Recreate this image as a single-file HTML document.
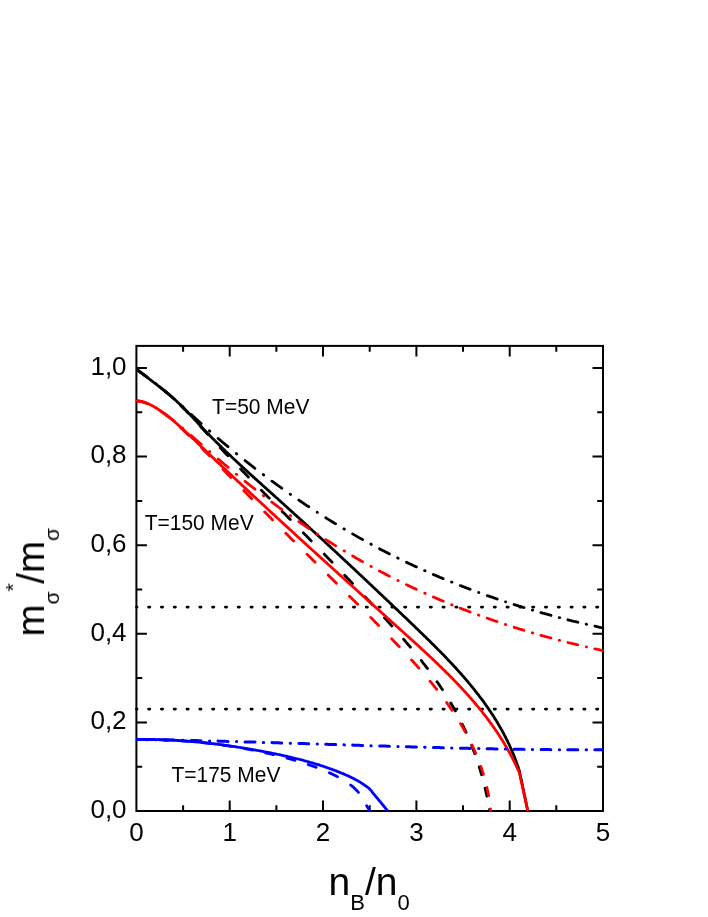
<!DOCTYPE html><html><head><meta charset="utf-8"><style>html,body{margin:0;padding:0;background:#fff}svg{display:block}</style></head><body><svg width="708" height="917" viewBox="0 0 708 917">
<rect width="100%" height="100%" fill="#fff"/>
<line x1="136.4" x2="601.0" y1="607.1" y2="607.1" stroke="#000" stroke-width="2.6" stroke-dasharray="1.4 11.4" stroke-dashoffset="-12.1" stroke-linecap="round"/>
<line x1="136.4" x2="601.0" y1="709.1" y2="709.1" stroke="#000" stroke-width="2.6" stroke-dasharray="1.4 11.4" stroke-dashoffset="-12.1" stroke-linecap="round"/>
<rect x="136.4" y="345.9" width="466.6" height="465.1" fill="none" stroke="#000" stroke-width="2"/>
<path d="M183.1 811.0 v-5.8 M183.1 345.9 v5.8 M229.7 811.0 v-10.5 M229.7 345.9 v10.5 M276.4 811.0 v-5.8 M276.4 345.9 v5.8 M323.0 811.0 v-10.5 M323.0 345.9 v10.5 M369.7 811.0 v-5.8 M369.7 345.9 v5.8 M416.4 811.0 v-10.5 M416.4 345.9 v10.5 M463.0 811.0 v-5.8 M463.0 345.9 v5.8 M509.7 811.0 v-10.5 M509.7 345.9 v10.5 M556.3 811.0 v-5.8 M556.3 345.9 v5.8 M136.4 766.7 h5.8 M603.0 766.7 h-5.8 M136.4 722.4 h10.5 M603.0 722.4 h-10.5 M136.4 678.1 h5.8 M603.0 678.1 h-5.8 M136.4 633.8 h10.5 M603.0 633.8 h-10.5 M136.4 589.5 h5.8 M603.0 589.5 h-5.8 M136.4 545.2 h10.5 M603.0 545.2 h-10.5 M136.4 500.9 h5.8 M603.0 500.9 h-5.8 M136.4 456.6 h10.5 M603.0 456.6 h-10.5 M136.4 412.3 h5.8 M603.0 412.3 h-5.8 M136.4 368.0 h10.5 M603.0 368.0 h-10.5" stroke="#000" stroke-width="2" fill="none"/>
<clipPath id="cp"><rect x="135.4" y="345.9" width="468.2" height="465.7"/></clipPath><g clip-path="url(#cp)">
<path d="M137.3 369.9 L138.1 370.5 L138.9 371.1 L139.7 371.7 L140.5 372.3 L141.3 372.9 L142.1 373.5 L142.9 374.1 L143.7 374.7 L144.5 375.3 L145.3 375.9 L146.1 376.5 L146.9 377.1 L147.3 377.4 M155.7 383.7 L156.1 384.0 M164.3 390.6 L165.1 391.2 L165.9 391.8 L166.6 392.5 L167.4 393.1 L168.2 393.7 L168.9 394.4 L169.7 395.0 L170.5 395.7 L171.2 396.3 L172.0 397.0 L172.7 397.6 L173.5 398.3 L174.3 398.9 M182.4 406.3 L183.0 406.8 M191.2 414.5 L191.9 415.1 L192.7 415.8 L193.4 416.5 L194.1 417.2 L194.9 417.8 L195.6 418.5 L196.4 419.2 L197.1 419.9 L197.8 420.5 L198.6 421.2 L199.3 421.9 L200.1 422.5 L200.8 423.2 L201.2 423.5 M209.4 430.8 L209.8 431.2 M218.1 438.4 L218.8 439.0 L219.6 439.7 L220.4 440.3 L221.1 441.0 L221.9 441.6 L222.6 442.2 L223.4 442.9 L224.2 443.5 L224.9 444.2 L225.7 444.8 L226.5 445.4 L227.2 446.1 L228.0 446.7 M236.3 453.5 L236.7 453.9 M245.1 460.6 L245.9 461.2 L246.6 461.8 L247.4 462.4 L248.2 463.0 L249.0 463.7 L249.8 464.3 L250.6 464.9 L251.4 465.5 L252.2 466.1 L252.9 466.7 L253.7 467.3 L254.5 468.0 L254.9 468.3 M263.3 474.6 L263.7 474.9 M271.9 481.1 L272.7 481.6 L273.5 482.2 L274.3 482.8 L275.1 483.4 L275.9 484.0 L276.7 484.6 L277.5 485.2 L278.4 485.8 L279.2 486.4 L280.0 486.9 L280.8 487.5 L281.6 488.1 L281.8 488.2 M290.2 494.2 L290.6 494.5 M298.8 500.1 L299.6 500.7 L300.5 501.3 L301.3 501.8 L302.1 502.4 L303.0 502.9 L303.8 503.5 L304.6 504.0 L305.4 504.6 L306.3 505.2 L307.1 505.7 L307.9 506.3 L308.8 506.8 M317.2 512.3 L317.4 512.4 M325.8 517.8 L326.6 518.3 L327.5 518.9 L328.3 519.4 L329.2 519.9 L330.0 520.4 L330.9 521.0 L331.7 521.5 L332.6 522.0 L333.4 522.5 L334.3 523.1 L335.1 523.6 L335.6 523.8 M343.9 528.9 L344.4 529.1 M352.6 533.9 L353.4 534.4 L354.3 534.9 L355.2 535.4 L356.0 535.9 L356.9 536.4 L357.8 536.9 L358.6 537.4 L359.5 537.9 L360.4 538.4 L361.2 538.8 L362.1 539.3 L362.6 539.6 M370.9 544.1 L371.3 544.4 M379.5 548.7 L380.3 549.2 L381.2 549.7 L382.1 550.1 L383.0 550.6 L383.9 551.0 L384.8 551.5 L385.7 552.0 L386.6 552.4 L387.4 552.9 L388.3 553.3 L389.2 553.8 L389.4 553.9 M397.7 558.0 L398.2 558.2 M406.5 562.3 L407.4 562.7 L408.3 563.1 L409.2 563.6 L410.1 564.0 L411.0 564.4 L411.9 564.8 L412.8 565.3 L413.7 565.7 L414.6 566.1 L415.5 566.5 L416.4 566.9 M424.6 570.6 L425.1 570.8 M433.3 574.5 L434.2 574.9 L435.1 575.2 L436.1 575.6 L437.0 576.0 L437.9 576.4 L438.8 576.8 L439.7 577.2 L440.7 577.6 L441.6 578.0 L442.5 578.4 L443.2 578.6 M451.5 582.1 L452.0 582.2 M460.3 585.6 L461.3 585.9 L462.2 586.3 L463.1 586.7 L464.1 587.0 L465.0 587.4 L465.9 587.7 L466.9 588.1 L467.8 588.4 L468.7 588.8 L469.7 589.1 L470.1 589.3 M478.6 592.4 L478.8 592.5 M487.3 595.6 L488.2 595.9 L489.2 596.2 L490.1 596.6 L491.1 596.9 L492.0 597.2 L493.0 597.5 L493.9 597.9 L494.8 598.2 L495.8 598.5 L496.7 598.8 L497.2 599.0 M505.5 601.8 L505.7 601.8 M514.1 604.5 L515.0 604.8 L516.0 605.1 L516.9 605.4 L517.9 605.7 L518.8 606.0 L519.8 606.3 L520.8 606.6 L521.7 606.9 L522.7 607.2 L523.6 607.5 L524.1 607.6 M532.3 610.1 L532.7 610.2 M540.9 612.6 L541.9 612.8 L542.8 613.1 L543.8 613.4 L544.7 613.7 L545.7 613.9 L546.7 614.2 L547.6 614.5 L548.6 614.7 L549.6 615.0 L550.5 615.2 L551.0 615.4 M559.2 617.6 L559.7 617.7 M567.9 619.8 L568.9 620.1 L569.9 620.3 L570.9 620.5 L571.8 620.8 L572.8 621.0 L573.8 621.3 L574.7 621.5 L575.7 621.7 L576.7 622.0 L577.7 622.2 L577.9 622.3 M586.2 624.2 L586.6 624.3 M594.9 626.2 L595.9 626.4 L596.9 626.6 L597.9 626.8 L598.8 627.1 L599.8 627.3 L600.8 627.5 L601.8 627.7 L602.7 627.9 L603.2 628.0" fill="none" stroke="#000" stroke-width="2.80" stroke-linejoin="round" stroke-linecap="round"/>
<path d="M137.9 370.3 L138.7 370.9 L139.5 371.5 L140.4 372.1 L141.2 372.7 L142.0 373.3 L142.8 373.9 L143.6 374.4 L144.4 375.0 L145.2 375.6 L146.0 376.2 M159.3 386.5 L160.1 387.1 L160.8 387.7 L161.6 388.4 L162.4 389.0 L163.2 389.6 L163.9 390.3 L164.7 390.9 L165.5 391.6 L166.2 392.2 L167.0 392.9 L167.4 393.2 M180.4 405.2 L181.1 405.9 L181.8 406.6 L182.5 407.3 L183.2 408.0 L183.9 408.7 L184.6 409.4 L185.3 410.1 L186.0 410.8 L186.7 411.6 L187.4 412.3 L188.1 413.0 L188.3 413.2 M200.4 426.4 L201.1 427.2 L201.8 427.9 L202.5 428.6 L203.2 429.4 L203.8 430.1 L204.5 430.9 L205.2 431.6 L205.9 432.3 L206.5 433.1 L207.2 433.8 L207.9 434.5 M220.2 447.7 L220.9 448.4 L221.6 449.1 L222.3 449.9 L223.0 450.6 L223.6 451.3 L224.3 452.0 L225.0 452.8 L225.7 453.5 L226.4 454.2 L227.1 454.9 L227.8 455.7 L227.9 455.8 M240.6 469.0 L241.3 469.7 L242.0 470.5 L242.7 471.2 L243.4 471.9 L244.1 472.6 L244.8 473.3 L245.5 474.0 L246.2 474.8 L246.9 475.5 L247.6 476.2 L248.3 476.9 L248.4 477.1 M261.4 490.3 L262.1 491.0 L262.8 491.7 L263.5 492.4 L264.2 493.2 L264.9 493.9 L265.6 494.6 L266.3 495.3 L267.0 496.0 L267.7 496.7 L268.4 497.4 L269.1 498.1 L269.3 498.3 M282.2 511.5 L282.9 512.2 L283.7 512.9 L284.4 513.6 L285.1 514.3 L285.8 515.0 L286.5 515.7 L287.2 516.4 L287.9 517.2 L288.6 517.9 L289.3 518.6 L290.0 519.3 L290.3 519.6 M303.3 532.8 L304.0 533.5 L304.7 534.2 L305.4 534.9 L306.1 535.6 L306.8 536.3 L307.5 537.0 L308.2 537.8 L308.9 538.5 L309.6 539.2 L310.3 539.9 L311.0 540.6 L311.3 541.0 M324.3 554.1 L324.9 554.9 L325.6 555.6 L326.3 556.3 L327.0 557.0 L327.7 557.7 L328.4 558.4 L329.1 559.1 L329.8 559.9 L330.5 560.6 L331.2 561.3 L331.9 562.0 L332.1 562.2 M344.7 575.3 L345.4 576.0 L346.1 576.7 L346.8 577.4 L347.5 578.2 L348.2 578.9 L348.9 579.6 L349.6 580.3 L350.3 581.1 L350.9 581.8 L351.6 582.5 L352.3 583.2 L352.5 583.4 M365.0 596.7 L365.7 597.4 L366.4 598.1 L367.1 598.9 L367.7 599.6 L368.4 600.3 L369.1 601.0 L369.8 601.8 L370.5 602.5 L371.2 603.2 L371.8 604.0 L372.5 604.7 M384.5 617.8 L385.2 618.6 L385.9 619.3 L386.6 620.0 L387.2 620.8 L387.9 621.5 L388.6 622.3 L389.3 623.0 L389.9 623.8 L390.6 624.5 L391.3 625.3 L391.9 626.0 M403.6 639.2 L404.2 640.0 L404.9 640.7 L405.5 641.5 L406.2 642.3 L406.8 643.0 L407.5 643.8 L408.1 644.5 L408.8 645.3 L409.4 646.1 L410.1 646.8 L410.4 647.2 M421.2 660.4 L421.8 661.2 L422.4 662.0 L423.0 662.8 L423.6 663.6 L424.3 664.4 L424.9 665.2 L425.5 666.0 L426.1 666.8 L426.7 667.5 L427.3 668.3 L427.5 668.5 M437.0 681.7 L437.6 682.5 L438.2 683.3 L438.7 684.1 L439.3 684.9 L439.8 685.8 L440.4 686.6 L441.0 687.4 L441.5 688.2 L442.1 689.1 L442.5 689.7 M450.8 703.0 L451.3 703.8 L451.8 704.7 L452.3 705.5 L452.8 706.4 L453.3 707.3 L453.8 708.1 L454.3 709.0 L454.8 709.9 L455.3 710.7 L455.4 710.9 M462.3 724.2 L462.7 725.1 L463.2 726.0 L463.6 726.9 L464.0 727.8 L464.4 728.7 L464.9 729.6 L465.3 730.5 L465.7 731.4 L466.1 732.3 M471.6 745.4 L472.0 746.4 L472.4 747.3 L472.7 748.2 L473.1 749.2 L473.4 750.1 L473.8 751.0 L474.1 752.0 L474.5 752.9 L474.7 753.6 M479.2 766.9 L479.5 767.9 L479.8 768.8 L480.1 769.8 L480.4 770.7 L480.7 771.7 L480.9 772.7 L481.2 773.6 L481.5 774.6 L481.6 774.8 M485.1 788.1 L485.3 789.1 L485.5 790.1 L485.8 791.1 L486.0 792.0 L486.2 793.0 L486.4 794.0 L486.7 795.0 L486.9 795.9 L486.9 796.2 M489.5 809.4 L489.7 810.4 L489.8 811.0" fill="none" stroke="#000" stroke-width="2.80" stroke-linejoin="round" stroke-linecap="round"/>
<path d="M136.5 369.3 L137.3 369.9 L138.1 370.5 L138.9 371.1 L139.7 371.7 L140.5 372.3 L141.3 372.9 L142.1 373.5 L142.9 374.1 L143.7 374.7 L144.5 375.3 L145.3 375.9 L146.1 376.5 L146.9 377.1 L147.7 377.7 L148.5 378.3 L149.3 379.0 L150.1 379.6 L150.8 380.2 L151.6 380.8 L152.4 381.4 L153.2 382.0 L154.0 382.6 L154.8 383.2 L155.6 383.8 L156.4 384.4 L157.2 385.0 L158.0 385.7 L158.8 386.3 L159.6 386.9 L160.4 387.5 L161.1 388.1 L161.9 388.8 L162.7 389.4 L163.5 390.0 L164.3 390.6 L165.0 391.3 L165.8 391.9 L166.6 392.5 L167.4 393.2 L168.1 393.8 L168.9 394.5 L169.7 395.1 L170.4 395.7 L171.2 396.4 L171.9 397.1 L172.7 397.7 L173.4 398.4 L174.2 399.0 L174.9 399.7 L175.7 400.4 L176.4 401.0 L177.2 401.7 L177.9 402.4 L178.6 403.1 L179.3 403.7 L180.1 404.4 L180.8 405.1 L181.5 405.8 L182.2 406.5 L182.9 407.2 L183.6 407.9 L184.3 408.6 L185.0 409.3 L185.7 410.1 L186.4 410.8 L187.1 411.5 L187.8 412.2 L188.5 412.9 L189.2 413.7 L189.9 414.4 L190.6 415.1 L191.2 415.9 L191.9 416.6 L192.6 417.3 L193.3 418.1 L194.0 418.8 L194.6 419.5 L195.3 420.3 L196.0 421.0 L196.7 421.7 L197.4 422.5 L198.0 423.2 L198.7 423.9 L199.4 424.7 L200.1 425.4 L200.8 426.1 L201.5 426.8 L202.1 427.6 L202.8 428.3 L203.5 429.0 L204.2 429.8 L204.9 430.5 L205.6 431.2 L206.3 431.9 L207.0 432.6 L207.7 433.4 L208.4 434.1 L209.1 434.8 L209.8 435.5 L210.5 436.2 L211.2 436.9 L211.9 437.6 L212.6 438.4 L213.3 439.1 L214.0 439.8 L214.7 440.5 L215.4 441.2 L216.1 441.9 L216.8 442.6 L217.6 443.3 L218.3 444.0 L219.0 444.7 L219.7 445.4 L220.4 446.1 L221.1 446.8 L221.8 447.5 L222.6 448.2 L223.3 448.9 L224.0 449.6 L224.7 450.3 L225.4 451.0 L226.2 451.7 L226.9 452.4 L227.6 453.1 L228.3 453.8 L229.1 454.4 L229.8 455.1 L230.5 455.8 L231.2 456.5 L232.0 457.2 L232.7 457.9 L233.4 458.6 L234.2 459.3 L234.9 459.9 L235.6 460.6 L236.4 461.3 L237.1 462.0 L237.8 462.7 L238.6 463.4 L239.3 464.0 L240.0 464.7 L240.8 465.4 L241.5 466.1 L242.2 466.8 L243.0 467.4 L243.7 468.1 L244.4 468.8 L245.2 469.5 L245.9 470.2 L246.7 470.8 L247.4 471.5 L248.1 472.2 L248.9 472.9 L249.6 473.5 L250.4 474.2 L251.1 474.9 L251.8 475.6 L252.6 476.2 L253.3 476.9 L254.1 477.6 L254.8 478.2 L255.5 478.9 L256.3 479.6 L257.0 480.3 L257.8 480.9 L258.5 481.6 L259.3 482.3 L260.0 482.9 L260.8 483.6 L261.5 484.3 L262.2 485.0 L263.0 485.6 L263.7 486.3 L264.5 487.0 L265.2 487.6 L266.0 488.3 L266.7 489.0 L267.4 489.6 L268.2 490.3 L268.9 491.0 L269.7 491.6 L270.4 492.3 L271.2 493.0 L271.9 493.6 L272.7 494.3 L273.4 495.0 L274.1 495.7 L274.9 496.3 L275.6 497.0 L276.4 497.7 L277.1 498.3 L277.9 499.0 L278.6 499.7 L279.3 500.3 L280.1 501.0 L280.8 501.7 L281.6 502.3 L282.3 503.0 L283.1 503.7 L283.8 504.3 L284.5 505.0 L285.3 505.7 L286.0 506.3 L286.8 507.0 L287.5 507.7 L288.2 508.4 L289.0 509.0 L289.7 509.7 L290.5 510.4 L291.2 511.0 L291.9 511.7 L292.7 512.4 L293.4 513.0 L294.1 513.7 L294.9 514.4 L295.6 515.1 L296.4 515.7 L297.1 516.4 L297.8 517.1 L298.6 517.7 L299.3 518.4 L300.0 519.1 L300.8 519.8 L301.5 520.4 L302.3 521.1 L303.0 521.8 L303.7 522.4 L304.5 523.1 L305.2 523.8 L305.9 524.5 L306.7 525.1 L307.4 525.8 L308.1 526.5 L308.9 527.2 L309.6 527.8 L310.3 528.5 L311.1 529.2 L311.8 529.8 L312.5 530.5 L313.3 531.2 L314.0 531.9 L314.7 532.5 L315.5 533.2 L316.2 533.9 L316.9 534.6 L317.7 535.2 L318.4 535.9 L319.1 536.6 L319.9 537.3 L320.6 537.9 L321.3 538.6 L322.1 539.3 L322.8 540.0 L323.5 540.6 L324.2 541.3 L325.0 542.0 L325.7 542.7 L326.4 543.3 L327.2 544.0 L327.9 544.7 L328.6 545.4 L329.4 546.0 L330.1 546.7 L330.8 547.4 L331.6 548.1 L332.3 548.7 L333.0 549.4 L333.7 550.1 L334.5 550.8 L335.2 551.5 L335.9 552.1 L336.7 552.8 L337.4 553.5 L338.1 554.2 L338.8 554.8 L339.6 555.5 L340.3 556.2 L341.0 556.9 L341.8 557.6 L342.5 558.2 L343.2 558.9 L343.9 559.6 L344.7 560.3 L345.4 561.0 L346.1 561.6 L346.9 562.3 L347.6 563.0 L348.3 563.7 L349.0 564.4 L349.8 565.0 L350.5 565.7 L351.2 566.4 L351.9 567.1 L352.7 567.8 L353.4 568.4 L354.1 569.1 L354.9 569.8 L355.6 570.5 L356.3 571.2 L357.0 571.9 L357.8 572.5 L358.5 573.2 L359.2 573.9 L359.9 574.6 L360.7 575.3 L361.4 575.9 L362.1 576.6 L362.8 577.3 L363.6 578.0 L364.3 578.7 L365.0 579.4 L365.8 580.0 L366.5 580.7 L367.2 581.4 L367.9 582.1 L368.7 582.8 L369.4 583.5 L370.1 584.2 L370.8 584.8 L371.6 585.5 L372.3 586.2 L373.0 586.9 L373.7 587.6 L374.5 588.3 L375.2 589.0 L375.9 589.6 L376.6 590.3 L377.4 591.0 L378.1 591.7 L378.8 592.4 L379.5 593.1 L380.3 593.8 L381.0 594.5 L381.7 595.1 L382.4 595.8 L383.2 596.5 L383.9 597.2 L384.6 597.9 L385.4 598.6 L386.1 599.3 L386.8 600.0 L387.5 600.6 L388.3 601.3 L389.0 602.0 L389.7 602.7 L390.4 603.4 L391.2 604.1 L391.9 604.8 L392.6 605.5 L393.3 606.2 L394.1 606.9 L394.8 607.6 L395.5 608.2 L396.2 608.9 L397.0 609.6 L397.7 610.3 L398.4 611.0 L399.1 611.7 L399.9 612.4 L400.6 613.1 L401.3 613.8 L402.1 614.5 L402.8 615.2 L403.5 615.9 L404.2 616.6 L405.0 617.3 L405.7 617.9 L406.4 618.6 L407.1 619.3 L407.9 620.0 L408.6 620.7 L409.3 621.4 L410.0 622.1 L410.8 622.8 L411.5 623.5 L412.2 624.2 L413.0 624.9 L413.7 625.6 L414.4 626.3 L415.1 627.0 L415.9 627.7 L416.6 628.4 L417.3 629.1 L418.0 629.8 L418.8 630.5 L419.5 631.2 L420.2 631.9 L420.9 632.6 L421.7 633.3 L422.4 634.0 L423.1 634.7 L423.8 635.4 L424.5 636.1 L425.3 636.8 L426.0 637.5 L426.7 638.2 L427.4 638.9 L428.1 639.6 L428.9 640.3 L429.6 641.0 L430.3 641.7 L431.0 642.5 L431.7 643.2 L432.4 643.9 L433.2 644.6 L433.9 645.3 L434.6 646.0 L435.3 646.7 L436.0 647.4 L436.7 648.1 L437.4 648.9 L438.1 649.6 L438.8 650.3 L439.6 651.0 L440.3 651.7 L441.0 652.4 L441.7 653.2 L442.4 653.9 L443.1 654.6 L443.8 655.3 L444.5 656.0 L445.2 656.8 L445.9 657.5 L446.6 658.2 L447.2 658.9 L447.9 659.7 L448.6 660.4 L449.3 661.1 L450.0 661.9 L450.7 662.6 L451.4 663.3 L452.1 664.1 L452.8 664.8 L453.4 665.5 L454.1 666.3 L454.8 667.0 L455.5 667.7 L456.1 668.5 L456.8 669.2 L457.5 670.0 L458.2 670.7 L458.8 671.5 L459.5 672.2 L460.2 672.9 L460.8 673.7 L461.5 674.4 L462.1 675.2 L462.8 675.9 L463.5 676.7 L464.1 677.5 L464.8 678.2 L465.4 679.0 L466.1 679.7 L466.7 680.5 L467.4 681.2 L468.0 682.0 L468.7 682.8 L469.3 683.5 L469.9 684.3 L470.6 685.1 L471.2 685.8 L471.8 686.6 L472.5 687.4 L473.1 688.2 L473.7 688.9 L474.3 689.7 L474.9 690.5 L475.6 691.3 L476.2 692.0 L476.8 692.8 L477.4 693.6 L478.0 694.4 L478.6 695.2 L479.2 696.0 L479.8 696.8 L480.4 697.6 L481.0 698.3 L481.6 699.1 L482.2 699.9 L482.8 700.7 L483.4 701.5 L484.0 702.3 L484.5 703.1 L485.1 703.9 L485.7 704.8 L486.3 705.6 L486.8 706.4 L487.4 707.2 L488.0 708.0 L488.5 708.8 L489.1 709.6 L489.6 710.5 L490.2 711.3 L490.7 712.1 L491.3 712.9 L491.8 713.7 L492.4 714.6 L492.9 715.4 L493.5 716.2 L494.0 717.1 L494.5 717.9 L495.0 718.8 L495.6 719.6 L496.1 720.4 L496.6 721.3 L497.1 722.1 L497.6 723.0 L498.1 723.8 L498.6 724.7 L499.1 725.5 L499.6 726.4 L500.1 727.2 L500.6 728.1 L501.1 729.0 L501.6 729.8 L502.1 730.7 L502.5 731.6 L503.0 732.4 L503.5 733.3 L504.0 734.2 L504.4 735.1 L504.9 736.0 L505.3 736.8 L505.8 737.7 L506.2 738.6 L506.7 739.5 L507.1 740.4 L507.6 741.3 L508.0 742.2 L508.4 743.1 L508.9 744.0 L509.3 744.9 L509.7 745.8 L510.1 746.7 L510.5 747.6 L510.9 748.5 L511.3 749.4 L511.7 750.4 L512.1 751.3 L512.5 752.2 L512.9 753.1 L513.3 754.0 L513.7 755.0 L514.0 755.9 L514.4 756.8 L514.8 757.8 L515.1 758.7 L515.5 759.7 L515.8 760.6 L516.2 761.6 L516.5 762.5 L516.9 763.5 L517.2 764.4 L517.6 765.4 L517.9 766.3 L518.2 767.3 L518.5 768.3 L518.8 769.2 L519.2 770.2 L519.4 771.0 L519.6 772.0 L519.8 773.0 L520.0 773.9 L520.2 774.9 L520.4 775.9 L520.6 776.9 L520.8 777.9 L521.0 778.9 L521.3 779.8 L521.5 780.8 L521.7 781.8 L521.9 782.8 L522.1 783.8 L522.3 784.7 L522.5 785.7 L522.7 786.7 L522.9 787.7 L523.1 788.7 L523.3 789.7 L523.5 790.6 L523.7 791.6 L523.9 792.6 L524.1 793.6 L524.3 794.6 L524.6 795.5 L524.8 796.5 L525.0 797.5 L525.2 798.5 L525.4 799.5 L525.6 800.4 L525.8 801.4 L526.0 802.4 L526.2 803.4 L526.4 804.4 L526.6 805.4 L526.8 806.3 L527.0 807.3 L527.2 808.3 L527.4 809.3 L527.6 810.3 L527.8 811.0" fill="none" stroke="#000" stroke-width="2.80" stroke-linejoin="round" stroke-linecap="butt"/>
<path d="M137.3 401.0 L138.3 401.1 L139.3 401.3 L140.3 401.4 L141.2 401.7 L142.2 401.9 L143.2 402.2 L144.1 402.4 L145.1 402.7 L146.0 403.1 L146.9 403.4 L147.4 403.6 M155.6 407.6 L156.0 407.9 M164.4 413.4 L165.2 414.0 L166.0 414.6 L166.8 415.2 L167.6 415.8 L168.4 416.4 L169.2 417.0 L170.0 417.7 L170.7 418.3 L171.5 418.9 L172.3 419.5 L173.1 420.1 L173.9 420.8 L174.3 421.1 M182.5 428.0 L182.9 428.3 M191.2 435.5 L192.0 436.2 L192.7 436.9 L193.5 437.5 L194.2 438.2 L195.0 438.8 L195.7 439.5 L196.5 440.2 L197.2 440.8 L198.0 441.5 L198.7 442.1 L199.5 442.8 L200.2 443.5 L201.0 444.1 L201.2 444.3 M209.5 451.5 L209.8 451.8 M218.2 459.0 L218.9 459.6 L219.7 460.3 L220.4 460.9 L221.2 461.6 L222.0 462.2 L222.7 462.9 L223.5 463.5 L224.3 464.2 L225.0 464.8 L225.8 465.4 L226.5 466.1 L227.3 466.7 L228.1 467.4 M236.3 474.2 L236.7 474.5 M245.0 481.3 L245.8 481.9 L246.6 482.5 L247.4 483.2 L248.1 483.8 L248.9 484.4 L249.7 485.0 L250.5 485.7 L251.3 486.3 L252.0 486.9 L252.8 487.5 L253.6 488.1 L254.4 488.7 L255.0 489.2 M263.3 495.6 L263.7 495.9 M271.8 502.1 L272.6 502.7 L273.4 503.3 L274.2 503.9 L275.0 504.5 L275.8 505.1 L276.6 505.7 L277.4 506.3 L278.2 506.9 L279.0 507.5 L279.8 508.1 L280.6 508.7 L281.5 509.2 L281.9 509.5 M290.2 515.5 L290.6 515.8 M298.8 521.6 L299.6 522.1 L300.4 522.7 L301.2 523.3 L302.0 523.8 L302.9 524.4 L303.7 525.0 L304.5 525.5 L305.3 526.1 L306.2 526.6 L307.0 527.2 L307.8 527.8 L308.6 528.3 L308.9 528.5 M317.0 533.9 L317.4 534.1 M325.8 539.6 L326.6 540.1 L327.5 540.6 L328.3 541.2 L329.2 541.7 L330.0 542.2 L330.8 542.8 L331.7 543.3 L332.5 543.8 L333.4 544.4 L334.2 544.9 L335.1 545.4 L335.7 545.8 M344.0 550.9 L344.5 551.1 M352.6 556.0 L353.5 556.5 L354.4 557.0 L355.2 557.5 L356.1 558.0 L356.9 558.5 L357.8 559.0 L358.7 559.5 L359.5 560.0 L360.4 560.5 L361.3 561.0 L362.2 561.5 L362.6 561.7 M370.9 566.3 L371.3 566.6 M379.4 571.0 L380.3 571.4 L381.2 571.9 L382.1 572.4 L383.0 572.8 L383.9 573.3 L384.7 573.8 L385.6 574.2 L386.5 574.7 L387.4 575.1 L388.3 575.6 L389.2 576.1 L389.4 576.2 M397.9 580.5 L398.1 580.6 M406.4 584.6 L407.3 585.1 L408.2 585.5 L409.1 585.9 L410.0 586.4 L410.9 586.8 L411.8 587.2 L412.7 587.6 L413.6 588.1 L414.5 588.5 L415.4 588.9 L416.3 589.3 M424.7 593.2 L425.2 593.4 M433.4 597.0 L434.3 597.4 L435.3 597.8 L436.2 598.2 L437.1 598.6 L438.0 599.0 L438.9 599.4 L439.9 599.8 L440.8 600.2 L441.7 600.6 L442.6 601.0 L443.3 601.2 M451.6 604.7 L452.1 604.9 M460.2 608.1 L461.1 608.5 L462.1 608.8 L463.0 609.2 L463.9 609.6 L464.9 609.9 L465.8 610.3 L466.7 610.7 L467.7 611.0 L468.6 611.4 L469.5 611.7 L470.2 612.0 M478.4 615.0 L478.9 615.2 M487.1 618.2 L488.1 618.5 L489.0 618.8 L490.0 619.2 L490.9 619.5 L491.9 619.8 L492.8 620.2 L493.7 620.5 L494.7 620.8 L495.6 621.1 L496.6 621.5 L497.1 621.6 M505.4 624.4 L505.8 624.6 M514.2 627.3 L515.1 627.6 L516.1 627.9 L517.0 628.2 L518.0 628.5 L518.9 628.8 L519.9 629.1 L520.8 629.3 L521.8 629.6 L522.7 629.9 L523.7 630.2 L523.9 630.3 M532.3 632.8 L532.8 633.0 M541.0 635.3 L541.9 635.6 L542.9 635.8 L543.9 636.1 L544.8 636.4 L545.8 636.7 L546.8 636.9 L547.7 637.2 L548.7 637.5 L549.7 637.7 L550.6 638.0 L550.9 638.0 M559.3 640.3 L559.6 640.4 M568.0 642.5 L569.0 642.8 L570.0 643.0 L570.9 643.2 L571.9 643.5 L572.9 643.7 L573.9 644.0 L574.8 644.2 L575.8 644.4 L576.8 644.7 L577.7 644.9 M586.3 646.9 L586.5 646.9 M594.8 648.8 L595.8 649.0 L596.7 649.2 L597.7 649.4 L598.7 649.6 L599.7 649.9 L600.6 650.1 L601.6 650.3 L602.6 650.5 L603.2 650.6" fill="none" stroke="#ff0000" stroke-width="2.80" stroke-linejoin="round" stroke-linecap="round"/>
<path d="M138.0 401.0 L139.0 401.1 L140.0 401.2 L141.0 401.4 L142.0 401.6 L143.0 401.9 L143.9 402.1 L144.9 402.4 L145.8 402.8 L146.0 402.9 M159.2 410.0 L160.0 410.5 L160.8 411.1 L161.7 411.7 L162.5 412.3 L163.3 412.9 L164.1 413.5 L164.9 414.1 L165.7 414.7 L166.5 415.3 L167.3 415.9 M180.4 427.5 L181.1 428.2 L181.9 428.8 L182.6 429.5 L183.3 430.2 L184.0 430.9 L184.7 431.6 L185.5 432.3 L186.2 433.0 L186.9 433.7 L187.6 434.4 L188.4 435.1 L188.5 435.2 M201.8 448.1 L202.5 448.8 L203.2 449.5 L203.9 450.2 L204.6 450.9 L205.3 451.6 L206.0 452.4 L206.7 453.1 L207.4 453.8 L208.2 454.5 L208.9 455.2 L209.6 455.9 L209.8 456.1 M223.0 469.4 L223.7 470.1 L224.4 470.8 L225.1 471.5 L225.8 472.2 L226.5 472.9 L227.2 473.7 L227.9 474.4 L228.6 475.1 L229.3 475.8 L230.0 476.5 L230.7 477.2 L230.9 477.4 M243.8 490.6 L244.5 491.4 L245.2 492.1 L245.9 492.8 L246.6 493.5 L247.3 494.2 L248.0 494.9 L248.7 495.7 L249.4 496.4 L250.1 497.1 L250.8 497.8 L251.5 498.5 L251.7 498.7 M264.6 511.9 L265.4 512.6 L266.1 513.4 L266.8 514.1 L267.5 514.8 L268.2 515.5 L268.9 516.2 L269.6 516.9 L270.3 517.6 L271.0 518.3 L271.7 519.1 L272.4 519.8 L272.5 519.9 M285.8 533.2 L286.5 533.9 L287.2 534.6 L287.9 535.3 L288.6 536.0 L289.3 536.7 L290.0 537.5 L290.7 538.2 L291.4 538.9 L292.1 539.6 L292.9 540.3 L293.6 541.0 L293.7 541.1 M307.0 554.3 L307.8 555.0 L308.5 555.7 L309.2 556.4 L309.9 557.1 L310.6 557.8 L311.3 558.5 L312.0 559.2 L312.7 559.9 L313.4 560.6 L314.2 561.3 L314.9 562.0 L315.0 562.2 M328.2 575.1 L328.9 575.8 L329.6 576.5 L330.3 577.2 L331.0 577.9 L331.8 578.6 L332.5 579.3 L333.2 580.0 L333.9 580.7 L334.6 581.4 L335.3 582.1 L336.0 582.8 L336.4 583.2 M349.5 596.2 L350.2 596.9 L350.9 597.6 L351.6 598.3 L352.3 599.0 L353.1 599.7 L353.8 600.4 L354.5 601.1 L355.2 601.8 L355.9 602.5 L356.6 603.2 L357.3 603.9 L357.7 604.3 M370.7 617.4 L371.4 618.1 L372.1 618.8 L372.8 619.5 L373.5 620.2 L374.2 620.9 L374.9 621.7 L375.6 622.4 L376.3 623.1 L377.0 623.8 L377.7 624.5 L378.4 625.2 L378.6 625.4 M391.6 638.7 L392.2 639.4 L392.9 640.1 L393.6 640.9 L394.3 641.6 L395.0 642.3 L395.7 643.0 L396.4 643.8 L397.1 644.5 L397.8 645.2 L398.5 645.9 L399.2 646.7 M411.5 659.9 L412.2 660.6 L412.9 661.3 L413.5 662.1 L414.2 662.8 L414.9 663.6 L415.5 664.3 L416.2 665.1 L416.9 665.8 L417.5 666.6 L418.2 667.3 L418.9 668.1 M430.1 681.2 L430.7 682.0 L431.4 682.7 L432.0 683.5 L432.6 684.3 L433.3 685.0 L433.9 685.8 L434.5 686.6 L435.1 687.4 L435.8 688.2 L436.4 688.9 L436.7 689.3 M446.6 702.5 L447.2 703.3 L447.7 704.1 L448.3 704.9 L448.9 705.7 L449.5 706.5 L450.0 707.4 L450.6 708.2 L451.2 709.0 L451.7 709.8 L452.1 710.4 M460.5 723.7 L461.1 724.5 L461.6 725.4 L462.1 726.3 L462.6 727.1 L463.1 728.0 L463.6 728.8 L464.0 729.7 L464.5 730.6 L465.0 731.5 L465.3 731.9 M472.0 745.0 L472.4 745.9 L472.8 746.8 L473.2 747.7 L473.7 748.6 L474.1 749.5 L474.5 750.4 L474.9 751.3 L475.3 752.2 L475.7 753.2 M480.8 766.4 L481.1 767.3 L481.5 768.3 L481.8 769.2 L482.1 770.2 L482.4 771.1 L482.7 772.1 L483.0 773.0 L483.3 774.0 L483.4 774.2 M486.9 787.5 L487.1 788.5 L487.3 789.4 L487.6 790.4 L487.8 791.4 L488.0 792.4 L488.1 793.4 L488.3 794.3 L488.5 795.3 L488.6 795.6 M490.4 808.8 L490.5 809.8 L490.6 810.8 L490.6 811.0" fill="none" stroke="#ff0000" stroke-width="2.80" stroke-linejoin="round" stroke-linecap="round"/>
<path d="M136.5 400.9 L137.5 401.0 L138.5 401.1 L139.6 401.2 L140.5 401.4 L141.5 401.5 L142.5 401.8 L143.5 402.0 L144.4 402.3 L145.3 402.6 L146.3 403.0 L147.2 403.3 L148.1 403.7 L149.0 404.1 L149.9 404.5 L150.8 405.0 L151.7 405.4 L152.6 405.9 L153.4 406.4 L154.3 406.9 L155.1 407.4 L156.0 407.9 L156.8 408.5 L157.7 409.0 L158.5 409.6 L159.3 410.1 L160.2 410.7 L161.0 411.3 L161.8 411.9 L162.6 412.4 L163.4 413.0 L164.3 413.6 L165.1 414.2 L165.9 414.8 L166.7 415.4 L167.4 416.1 L168.2 416.7 L169.0 417.3 L169.8 417.9 L170.6 418.6 L171.4 419.2 L172.1 419.8 L172.9 420.5 L173.7 421.1 L174.5 421.7 L175.2 422.4 L176.0 423.0 L176.7 423.7 L177.5 424.3 L178.2 425.0 L179.0 425.7 L179.8 426.3 L180.5 427.0 L181.2 427.7 L182.0 428.3 L182.7 429.0 L183.5 429.7 L184.2 430.3 L184.9 431.0 L185.7 431.7 L186.4 432.4 L187.1 433.1 L187.9 433.7 L188.6 434.4 L189.3 435.1 L190.1 435.8 L190.8 436.5 L191.5 437.2 L192.2 437.9 L193.0 438.6 L193.7 439.3 L194.4 439.9 L195.1 440.6 L195.8 441.3 L196.6 442.0 L197.3 442.7 L198.0 443.4 L198.7 444.1 L199.4 444.8 L200.2 445.5 L200.9 446.2 L201.6 446.9 L202.3 447.6 L203.1 448.3 L203.8 448.9 L204.5 449.6 L205.2 450.3 L205.9 451.0 L206.7 451.7 L207.4 452.4 L208.1 453.1 L208.8 453.8 L209.6 454.5 L210.3 455.2 L211.0 455.9 L211.7 456.5 L212.4 457.2 L213.2 457.9 L213.9 458.6 L214.6 459.3 L215.3 460.0 L216.1 460.7 L216.8 461.4 L217.5 462.1 L218.2 462.7 L219.0 463.4 L219.7 464.1 L220.4 464.8 L221.1 465.5 L221.9 466.2 L222.6 466.9 L223.3 467.6 L224.0 468.2 L224.8 468.9 L225.5 469.6 L226.2 470.3 L226.9 471.0 L227.7 471.7 L228.4 472.4 L229.1 473.0 L229.8 473.7 L230.6 474.4 L231.3 475.1 L232.0 475.8 L232.8 476.5 L233.5 477.2 L234.2 477.8 L234.9 478.5 L235.7 479.2 L236.4 479.9 L237.1 480.6 L237.8 481.3 L238.6 481.9 L239.3 482.6 L240.0 483.3 L240.8 484.0 L241.5 484.7 L242.2 485.4 L242.9 486.0 L243.7 486.7 L244.4 487.4 L245.1 488.1 L245.9 488.8 L246.6 489.4 L247.3 490.1 L248.1 490.8 L248.8 491.5 L249.5 492.2 L250.2 492.9 L251.0 493.5 L251.7 494.2 L252.4 494.9 L253.2 495.6 L253.9 496.3 L254.6 496.9 L255.4 497.6 L256.1 498.3 L256.8 499.0 L257.6 499.7 L258.3 500.3 L259.0 501.0 L259.7 501.7 L260.5 502.4 L261.2 503.1 L261.9 503.7 L262.7 504.4 L263.4 505.1 L264.1 505.8 L264.9 506.4 L265.6 507.1 L266.3 507.8 L267.1 508.5 L267.8 509.2 L268.5 509.8 L269.3 510.5 L270.0 511.2 L270.7 511.9 L271.5 512.6 L272.2 513.2 L272.9 513.9 L273.7 514.6 L274.4 515.3 L275.1 515.9 L275.9 516.6 L276.6 517.3 L277.3 518.0 L278.1 518.6 L278.8 519.3 L279.5 520.0 L280.3 520.7 L281.0 521.3 L281.7 522.0 L282.5 522.7 L283.2 523.4 L284.0 524.1 L284.7 524.7 L285.4 525.4 L286.2 526.1 L286.9 526.8 L287.6 527.4 L288.4 528.1 L289.1 528.8 L289.8 529.5 L290.6 530.1 L291.3 530.8 L292.0 531.5 L292.8 532.2 L293.5 532.8 L294.3 533.5 L295.0 534.2 L295.7 534.9 L296.5 535.5 L297.2 536.2 L297.9 536.9 L298.7 537.5 L299.4 538.2 L300.2 538.9 L300.9 539.6 L301.6 540.2 L302.4 540.9 L303.1 541.6 L303.8 542.3 L304.6 542.9 L305.3 543.6 L306.1 544.3 L306.8 545.0 L307.5 545.6 L308.3 546.3 L309.0 547.0 L309.8 547.7 L310.5 548.3 L311.2 549.0 L312.0 549.7 L312.7 550.3 L313.4 551.0 L314.2 551.7 L314.9 552.4 L315.7 553.0 L316.4 553.7 L317.1 554.4 L317.9 555.1 L318.6 555.7 L319.4 556.4 L320.1 557.1 L320.8 557.7 L321.6 558.4 L322.3 559.1 L323.1 559.8 L323.8 560.4 L324.5 561.1 L325.3 561.8 L326.0 562.4 L326.8 563.1 L327.5 563.8 L328.2 564.5 L329.0 565.1 L329.7 565.8 L330.5 566.5 L331.2 567.1 L331.9 567.8 L332.7 568.5 L333.4 569.2 L334.2 569.8 L334.9 570.5 L335.7 571.2 L336.4 571.8 L337.1 572.5 L337.9 573.2 L338.6 573.9 L339.4 574.5 L340.1 575.2 L340.8 575.9 L341.6 576.5 L342.3 577.2 L343.1 577.9 L343.8 578.6 L344.6 579.2 L345.3 579.9 L346.0 580.6 L346.8 581.2 L347.5 581.9 L348.3 582.6 L349.0 583.3 L349.8 583.9 L350.5 584.6 L351.2 585.3 L352.0 585.9 L352.7 586.6 L353.5 587.3 L354.2 588.0 L355.0 588.6 L355.7 589.3 L356.4 590.0 L357.2 590.6 L357.9 591.3 L358.7 592.0 L359.4 592.7 L360.2 593.3 L360.9 594.0 L361.6 594.7 L362.4 595.3 L363.1 596.0 L363.9 596.7 L364.6 597.4 L365.4 598.0 L366.1 598.7 L366.8 599.4 L367.6 600.0 L368.3 600.7 L369.1 601.4 L369.8 602.0 L370.6 602.7 L371.3 603.4 L372.1 604.1 L372.8 604.7 L373.5 605.4 L374.3 606.1 L375.0 606.7 L375.8 607.4 L376.5 608.1 L377.3 608.8 L378.0 609.4 L378.8 610.1 L379.5 610.8 L380.2 611.4 L381.0 612.1 L381.7 612.8 L382.5 613.5 L383.2 614.1 L384.0 614.8 L384.7 615.5 L385.5 616.1 L386.2 616.8 L387.0 617.5 L387.7 618.2 L388.4 618.8 L389.2 619.5 L389.9 620.2 L390.7 620.8 L391.4 621.5 L392.2 622.2 L392.9 622.9 L393.7 623.5 L394.4 624.2 L395.2 624.9 L395.9 625.6 L396.6 626.2 L397.4 626.9 L398.1 627.6 L398.9 628.2 L399.6 628.9 L400.4 629.6 L401.1 630.3 L401.9 630.9 L402.6 631.6 L403.4 632.3 L404.1 633.0 L404.8 633.6 L405.6 634.3 L406.3 635.0 L407.1 635.6 L407.8 636.3 L408.6 637.0 L409.3 637.7 L410.1 638.3 L410.8 639.0 L411.6 639.7 L412.3 640.4 L413.0 641.0 L413.8 641.7 L414.5 642.4 L415.3 643.1 L416.0 643.7 L416.8 644.4 L417.5 645.1 L418.2 645.8 L419.0 646.5 L419.7 647.1 L420.5 647.8 L421.2 648.5 L421.9 649.2 L422.7 649.9 L423.4 650.5 L424.1 651.2 L424.9 651.9 L425.6 652.6 L426.4 653.3 L427.1 653.9 L427.8 654.6 L428.6 655.3 L429.3 656.0 L430.0 656.7 L430.8 657.4 L431.5 658.1 L432.2 658.8 L432.9 659.4 L433.7 660.1 L434.4 660.8 L435.1 661.5 L435.8 662.2 L436.6 662.9 L437.3 663.6 L438.0 664.3 L438.7 665.0 L439.5 665.7 L440.2 666.4 L440.9 667.1 L441.6 667.8 L442.3 668.5 L443.0 669.2 L443.8 669.9 L444.5 670.6 L445.2 671.3 L445.9 672.0 L446.6 672.7 L447.3 673.4 L448.0 674.1 L448.7 674.8 L449.4 675.5 L450.1 676.2 L450.8 676.9 L451.5 677.6 L452.2 678.3 L452.9 679.1 L453.6 679.8 L454.3 680.5 L455.0 681.2 L455.7 681.9 L456.4 682.6 L457.1 683.4 L457.8 684.1 L458.5 684.8 L459.2 685.5 L459.8 686.3 L460.5 687.0 L461.2 687.7 L461.9 688.4 L462.6 689.2 L463.2 689.9 L463.9 690.6 L464.6 691.4 L465.2 692.1 L465.9 692.8 L466.6 693.6 L467.2 694.3 L467.9 695.1 L468.6 695.8 L469.2 696.5 L469.9 697.3 L470.5 698.0 L471.2 698.8 L471.8 699.5 L472.5 700.3 L473.1 701.0 L473.8 701.8 L474.4 702.5 L475.1 703.3 L475.7 704.1 L476.4 704.8 L477.0 705.6 L477.6 706.3 L478.3 707.1 L478.9 707.9 L479.5 708.6 L480.1 709.4 L480.8 710.2 L481.4 711.0 L482.0 711.7 L482.6 712.5 L483.2 713.3 L483.8 714.1 L484.5 714.8 L485.1 715.6 L485.7 716.4 L486.3 717.2 L486.9 718.0 L487.5 718.8 L488.1 719.6 L488.7 720.4 L489.3 721.2 L489.8 722.0 L490.4 722.8 L491.0 723.6 L491.6 724.4 L492.2 725.2 L492.7 726.0 L493.3 726.8 L493.9 727.6 L494.5 728.4 L495.0 729.2 L495.6 730.1 L496.1 730.9 L496.7 731.7 L497.3 732.5 L497.8 733.4 L498.4 734.2 L498.9 735.0 L499.4 735.8 L500.0 736.7 L500.5 737.5 L501.1 738.4 L501.6 739.2 L502.1 740.0 L502.6 740.9 L503.2 741.7 L503.7 742.6 L504.2 743.4 L504.7 744.3 L505.2 745.2 L505.7 746.0 L506.2 746.9 L506.7 747.7 L507.2 748.6 L507.7 749.5 L508.2 750.4 L508.7 751.2 L509.2 752.1 L509.7 753.0 L510.2 753.9 L510.6 754.7 L511.1 755.6 L511.6 756.5 L512.1 757.4 L512.5 758.3 L513.0 759.2 L513.4 760.1 L513.9 761.0 L514.3 761.9 L514.8 762.8 L515.2 763.7 L515.7 764.6 L516.1 765.6 L516.5 766.5 L517.0 767.4 L517.4 768.3 L517.8 769.2 L518.2 770.2 L518.7 771.1 L519.1 772.0 L519.4 772.8 L519.6 773.8 L519.8 774.8 L520.0 775.7 L520.3 776.7 L520.5 777.7 L520.7 778.7 L520.9 779.7 L521.1 780.6 L521.3 781.6 L521.6 782.6 L521.8 783.6 L522.0 784.6 L522.2 785.5 L522.4 786.5 L522.6 787.5 L522.8 788.5 L523.1 789.5 L523.3 790.4 L523.5 791.4 L523.7 792.4 L523.9 793.4 L524.1 794.3 L524.4 795.3 L524.6 796.3 L524.8 797.3 L525.0 798.3 L525.2 799.2 L525.4 800.2 L525.6 801.2 L525.9 802.2 L526.1 803.2 L526.3 804.1 L526.5 805.1 L526.7 806.1 L526.9 807.1 L527.2 808.1 L527.4 809.0 L527.6 810.0 L527.8 811.0" fill="none" stroke="#ff0000" stroke-width="2.80" stroke-linejoin="round" stroke-linecap="butt"/>
<path d="M137.5 739.5 L138.5 739.5 L139.5 739.5 L140.5 739.6 L141.5 739.6 L142.5 739.6 L143.5 739.6 L144.5 739.6 L145.5 739.6 L146.5 739.6 L147.2 739.7 M155.7 739.8 L156.0 739.8 M164.2 739.9 L165.2 740.0 L166.2 740.0 L167.2 740.0 L168.2 740.0 L169.2 740.0 L170.2 740.1 L171.2 740.1 L172.2 740.1 L173.2 740.1 L174.2 740.1 M182.5 740.3 L183.0 740.3 M191.2 740.5 L192.2 740.5 L193.2 740.5 L194.2 740.6 L195.2 740.6 L196.2 740.6 L197.2 740.6 L198.2 740.7 L199.2 740.7 L200.2 740.7 L201.0 740.7 M209.5 740.9 L209.7 740.9 M218.0 741.1 L219.0 741.2 L220.0 741.2 L221.0 741.2 L222.0 741.2 L223.0 741.3 L224.0 741.3 L225.0 741.3 L226.0 741.3 L227.0 741.4 L228.0 741.4 M236.5 741.6 L236.7 741.6 M245.0 741.9 L246.0 741.9 L247.0 741.9 L248.0 741.9 L249.0 742.0 L250.0 742.0 L251.0 742.0 L252.0 742.0 L253.0 742.1 L254.0 742.1 L255.0 742.1 M263.2 742.4 L263.7 742.4 M272.0 742.6 L273.0 742.7 L274.0 742.7 L275.0 742.7 L276.0 742.7 L277.0 742.8 L278.0 742.8 L279.0 742.8 L280.0 742.9 L281.0 742.9 L281.7 742.9 M290.2 743.2 L290.5 743.2 M298.9 743.4 L299.9 743.5 L300.9 743.5 L301.9 743.5 L302.9 743.6 L303.9 743.6 L304.9 743.6 L305.9 743.7 L306.9 743.7 L307.9 743.7 L308.7 743.7 M317.2 744.0 L317.4 744.0 M325.7 744.3 L326.7 744.3 L327.7 744.3 L328.7 744.4 L329.7 744.4 L330.7 744.4 L331.7 744.5 L332.7 744.5 L333.7 744.5 L334.7 744.6 L335.7 744.6 M343.9 744.8 L344.4 744.9 M352.7 745.1 L353.7 745.2 L354.7 745.2 L355.7 745.2 L356.7 745.2 L357.7 745.3 L358.7 745.3 L359.7 745.3 L360.7 745.4 L361.7 745.4 L362.7 745.4 M370.9 745.7 L371.2 745.7 M379.7 745.9 L380.7 746.0 L381.7 746.0 L382.7 746.0 L383.7 746.1 L384.6 746.1 L385.6 746.1 L386.6 746.2 L387.6 746.2 L388.6 746.2 L389.4 746.2 M397.9 746.5 L398.1 746.5 M406.4 746.7 L407.4 746.8 L408.4 746.8 L409.4 746.8 L410.4 746.8 L411.4 746.9 L412.4 746.9 L413.4 746.9 L414.4 747.0 L415.4 747.0 L416.4 747.0 M424.6 747.2 L425.1 747.3 M433.4 747.5 L434.4 747.5 L435.4 747.5 L436.4 747.6 L437.4 747.6 L438.4 747.6 L439.4 747.6 L440.4 747.7 L441.4 747.7 L442.4 747.7 L443.4 747.7 M451.6 747.9 L451.9 747.9 M460.4 748.2 L461.4 748.2 L462.4 748.2 L463.4 748.2 L464.4 748.2 L465.4 748.3 L466.4 748.3 L467.4 748.3 L468.4 748.3 L469.4 748.4 L470.1 748.4 M478.6 748.6 L478.9 748.6 M487.1 748.7 L488.1 748.7 L489.1 748.8 L490.1 748.8 L491.1 748.8 L492.1 748.8 L493.1 748.8 L494.1 748.9 L495.1 748.9 L496.1 748.9 L497.1 748.9 M505.3 749.1 L505.8 749.1 M514.1 749.2 L515.1 749.2 L516.1 749.2 L517.1 749.3 L518.1 749.3 L519.1 749.3 L520.1 749.3 L521.1 749.3 L522.1 749.3 L523.1 749.3 L524.1 749.4 M532.3 749.5 L532.6 749.5 M541.1 749.6 L542.1 749.6 L543.1 749.6 L544.1 749.6 L545.1 749.6 L546.1 749.6 L547.1 749.6 L548.1 749.6 L549.1 749.6 L550.1 749.6 L550.8 749.7 M559.3 749.7 L559.6 749.7 M567.8 749.8 L568.8 749.8 L569.8 749.8 L570.8 749.8 L571.8 749.8 L572.8 749.8 L573.8 749.8 L574.8 749.8 L575.8 749.8 L576.8 749.8 L577.8 749.8 M586.1 749.8 L586.6 749.8 M594.8 749.8 L595.8 749.8 L596.8 749.8 L597.8 749.8 L598.8 749.8 L599.8 749.8 L600.8 749.8 L601.8 749.8 L602.8 749.8 L603.2 749.8" fill="none" stroke="#0000ff" stroke-width="3.00" stroke-linejoin="round" stroke-linecap="round"/>
<path d="M138.0 739.5 L139.0 739.5 L140.0 739.5 L141.0 739.5 L142.0 739.5 L143.0 739.5 L144.0 739.5 L145.0 739.5 L146.0 739.5 M159.2 739.8 L160.2 739.8 L161.2 739.9 L162.2 739.9 L163.2 739.9 L164.2 740.0 L165.2 740.0 L166.2 740.0 L167.2 740.1 M180.5 740.8 L181.5 740.9 L182.5 740.9 L183.5 741.0 L184.5 741.1 L185.4 741.1 L186.4 741.2 L187.4 741.3 L188.4 741.4 M201.9 742.6 L202.9 742.7 L203.9 742.8 L204.9 742.9 L205.9 743.0 L206.9 743.1 L207.9 743.2 L208.9 743.3 L209.9 743.5 M223.0 745.1 L224.0 745.3 L225.0 745.4 L226.0 745.6 L227.0 745.7 L228.0 745.8 L228.9 746.0 L229.9 746.1 L230.9 746.3 L231.2 746.3 M244.2 748.5 L245.2 748.7 L246.2 748.9 L247.2 749.1 L248.2 749.3 L249.1 749.4 L250.1 749.6 L251.1 749.8 L252.1 750.0 L252.3 750.1 M265.5 752.9 L266.5 753.1 L267.5 753.3 L268.5 753.5 L269.4 753.7 L270.4 754.0 L271.4 754.2 L272.4 754.4 L273.3 754.7 L273.6 754.7 M286.9 758.2 L287.9 758.4 L288.8 758.7 L289.8 758.9 L290.7 759.2 L291.7 759.5 L292.7 759.8 L293.6 760.0 L294.6 760.3 L294.8 760.4 M308.2 764.5 L309.1 764.9 L310.1 765.2 L311.0 765.5 L312.0 765.8 L312.9 766.2 L313.9 766.5 L314.8 766.8 L315.7 767.2 L316.2 767.3 M329.4 772.8 L330.3 773.2 L331.2 773.6 L332.1 774.0 L333.0 774.5 L333.9 774.9 L334.8 775.4 L335.7 775.8 L336.6 776.3 L337.5 776.7 M350.6 785.0 L351.4 785.6 L352.2 786.2 L353.0 786.9 L353.7 787.5 L354.4 788.2 L355.1 788.9 L355.9 789.6 L356.5 790.3 L357.2 791.0 L357.9 791.7 L358.5 792.5 M366.7 805.7 L367.2 806.6 L367.7 807.5 L368.2 808.3 L368.6 809.2 L369.1 810.1 L369.7 810.9 L369.7 811.0" fill="none" stroke="#0000ff" stroke-width="2.80" stroke-linejoin="round" stroke-linecap="round"/>
<path d="M136.5 739.5 L137.5 739.5 L138.5 739.5 L139.5 739.5 L140.5 739.5 L141.5 739.4 L142.5 739.4 L143.5 739.4 L144.5 739.4 L145.5 739.4 L146.5 739.4 L147.5 739.5 L148.5 739.5 L149.5 739.5 L150.5 739.5 L151.5 739.5 L152.5 739.5 L153.5 739.5 L154.5 739.5 L155.5 739.6 L156.5 739.6 L157.5 739.6 L158.5 739.6 L159.5 739.7 L160.5 739.7 L161.5 739.7 L162.5 739.8 L163.5 739.8 L164.5 739.8 L165.5 739.9 L166.5 739.9 L167.5 740.0 L168.5 740.0 L169.5 740.0 L170.5 740.1 L171.5 740.1 L172.5 740.2 L173.5 740.2 L174.5 740.3 L175.5 740.4 L176.5 740.4 L177.5 740.5 L178.5 740.5 L179.5 740.6 L180.5 740.7 L181.5 740.7 L182.5 740.8 L183.5 740.9 L184.5 740.9 L185.5 741.0 L186.5 741.1 L187.5 741.2 L188.5 741.2 L189.5 741.3 L190.5 741.4 L191.5 741.5 L192.5 741.6 L193.5 741.7 L194.5 741.8 L195.4 741.8 L196.4 741.9 L197.4 742.0 L198.4 742.1 L199.4 742.2 L200.4 742.3 L201.4 742.4 L202.4 742.5 L203.4 742.6 L204.4 742.7 L205.4 742.8 L206.4 742.9 L207.4 743.1 L208.4 743.2 L209.4 743.3 L210.3 743.4 L211.3 743.5 L212.3 743.6 L213.3 743.7 L214.3 743.9 L215.3 744.0 L216.3 744.1 L217.3 744.2 L218.3 744.3 L219.3 744.5 L220.3 744.6 L221.3 744.7 L222.2 744.9 L223.2 745.0 L224.2 745.1 L225.2 745.3 L226.2 745.4 L227.2 745.5 L228.2 745.7 L229.2 745.8 L230.2 746.0 L231.2 746.1 L232.1 746.3 L233.1 746.4 L234.1 746.6 L235.1 746.7 L236.1 746.9 L237.1 747.0 L238.1 747.2 L239.1 747.3 L240.1 747.5 L241.0 747.6 L242.0 747.8 L243.0 747.9 L244.0 748.1 L245.0 748.3 L246.0 748.4 L247.0 748.6 L247.9 748.8 L248.9 748.9 L249.9 749.1 L250.9 749.3 L251.9 749.4 L252.9 749.6 L253.9 749.8 L254.8 750.0 L255.8 750.1 L256.8 750.3 L257.8 750.5 L258.8 750.7 L259.8 750.9 L260.8 751.0 L261.7 751.2 L262.7 751.4 L263.7 751.6 L264.7 751.8 L265.7 752.0 L266.7 752.2 L267.6 752.4 L268.6 752.5 L269.6 752.7 L270.6 752.9 L271.6 753.1 L272.6 753.3 L273.5 753.5 L274.5 753.7 L275.5 753.9 L276.5 754.1 L277.5 754.3 L278.4 754.5 L279.4 754.7 L280.4 754.9 L281.4 755.2 L282.4 755.4 L283.3 755.6 L284.3 755.8 L285.3 756.0 L286.3 756.2 L287.2 756.4 L288.2 756.7 L289.2 756.9 L290.2 757.1 L291.1 757.3 L292.1 757.6 L293.1 757.8 L294.1 758.0 L295.0 758.3 L296.0 758.5 L297.0 758.8 L298.0 759.0 L298.9 759.2 L299.9 759.5 L300.9 759.7 L301.8 760.0 L302.8 760.2 L303.8 760.5 L304.7 760.8 L305.7 761.0 L306.7 761.3 L307.6 761.5 L308.6 761.8 L309.5 762.1 L310.5 762.4 L311.5 762.6 L312.4 762.9 L313.4 763.2 L314.3 763.5 L315.3 763.8 L316.3 764.1 L317.2 764.4 L318.2 764.6 L319.1 764.9 L320.1 765.3 L321.0 765.6 L322.0 765.9 L322.9 766.2 L323.9 766.5 L324.8 766.8 L325.8 767.1 L326.7 767.5 L327.6 767.8 L328.6 768.1 L329.5 768.5 L330.5 768.8 L331.4 769.1 L332.3 769.5 L333.3 769.8 L334.2 770.2 L335.1 770.5 L336.1 770.9 L337.0 771.3 L337.9 771.6 L338.9 772.0 L339.8 772.4 L340.7 772.8 L341.6 773.1 L342.6 773.5 L343.5 773.9 L344.4 774.3 L345.3 774.7 L346.2 775.1 L347.2 775.5 L348.1 775.9 L349.0 776.4 L349.9 776.8 L350.8 777.2 L351.7 777.6 L352.6 778.1 L353.5 778.5 L354.4 779.0 L355.2 779.5 L356.1 779.9 L357.0 780.4 L357.9 780.9 L358.7 781.4 L359.6 781.9 L360.5 782.4 L361.3 783.0 L362.1 783.5 L363.0 784.0 L363.8 784.6 L364.6 785.2 L365.5 785.7 L366.3 786.3 L367.1 786.9 L367.9 787.5 L368.7 788.1 L369.4 788.8 L370.0 789.4 L370.7 790.2 L371.3 790.9 L371.9 791.7 L372.6 792.5 L373.2 793.3 L373.9 794.1 L374.5 794.8 L375.1 795.6 L375.8 796.4 L376.4 797.2 L377.1 798.0 L377.7 798.7 L378.3 799.5 L379.0 800.3 L379.6 801.1 L380.3 801.8 L380.9 802.6 L381.6 803.4 L382.2 804.2 L382.8 805.0 L383.5 805.7 L384.1 806.5 L384.8 807.3 L385.4 808.1 L386.0 808.9 L386.7 809.6 L387.3 810.4 L387.8 811.0" fill="none" stroke="#0000ff" stroke-width="2.80" stroke-linejoin="round" stroke-linecap="butt"/>
</g>
<g font-family="Liberation Sans, sans-serif" fill="#000" opacity="0.999">
<text x="136.4" y="840.9" font-size="26" text-anchor="middle">0</text>
<text x="229.7" y="840.9" font-size="26" text-anchor="middle">1</text>
<text x="323.0" y="840.9" font-size="26" text-anchor="middle">2</text>
<text x="416.4" y="840.9" font-size="26" text-anchor="middle">3</text>
<text x="509.7" y="840.9" font-size="26" text-anchor="middle">4</text>
<text x="603.0" y="840.9" font-size="26" text-anchor="middle">5</text>
<text x="126.6" y="817.8" font-size="26" text-anchor="end">0,0</text>
<text x="126.6" y="729.2" font-size="26" text-anchor="end">0,2</text>
<text x="126.6" y="640.6" font-size="26" text-anchor="end">0,4</text>
<text x="126.6" y="552.0" font-size="26" text-anchor="end">0,6</text>
<text x="126.6" y="463.4" font-size="26" text-anchor="end">0,8</text>
<text x="126.6" y="374.8" font-size="26" text-anchor="end">1,0</text>
<text transform="translate(212.1,413.9) scale(0.945,1)" font-size="22.2">T=50 MeV</text>
<text transform="translate(144.7,530.4) scale(0.945,1)" font-size="22.2">T=150 MeV</text>
<text transform="translate(171.5,781.7) scale(0.945,1)" font-size="22.2">T=175 MeV</text>
<text x="328.6" y="895.4" font-size="39">n<tspan font-size="22" dy="14.3">B</tspan><tspan dy="-14.3">/n</tspan><tspan font-size="22" dy="14.3">0</tspan></text>
<g transform="translate(44,636.5) rotate(-90)"><text x="0" y="0" font-size="38.5">m<tspan font-size="21" dy="14.5">σ</tspan><tspan font-size="21" dy="-38.6">*</tspan><tspan dy="24.1" dx="-0.4">/m</tspan><tspan font-size="21" dy="14.5">σ</tspan></text></g>
</g>
</svg></body></html>
